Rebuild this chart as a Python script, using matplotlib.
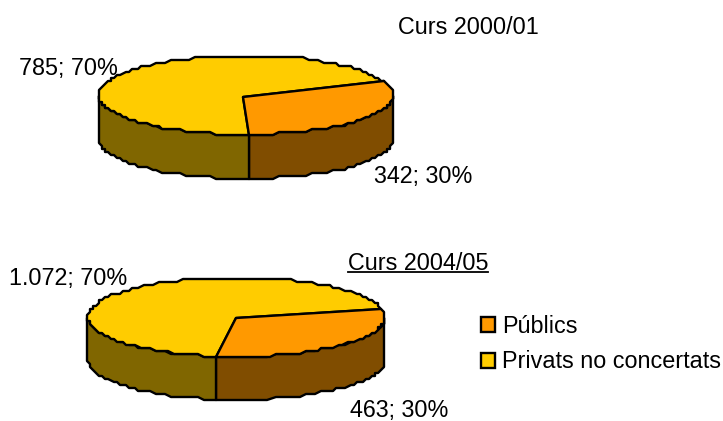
import numpy as np
import matplotlib
matplotlib.use("Agg")
import matplotlib.pyplot as plt
from matplotlib.patches import Polygon, Patch

plt.rcParams['font.family'] = ['Liberation Sans', 'DejaVu Sans']

categories = ["Públics", "Privats no concertats"]
years = ["Curs 2000/01", "Curs 2004/05"]
values_2000 = [342, 785]
values_2004 = [463, 1072]
top_colors = ["#FF9900", "#FFCC00"]
side_colors = ["#804D00", "#806600"]

FS = 16.8
STEP = 3.0
LW = 1.7


def quant(pts):
    return np.round(np.asarray(pts) / STEP) * STEP


def fmt(v, total):
    s = f"{v:,}".replace(",", ".")
    return f"{s}; {round(100 * v / total)}%"


def arc(cx, cy, rx, ry, a0, a1):
    n = max(2, int(abs(a1 - a0) / 2.5) + 1)
    t = np.radians(np.linspace(a0, a1, n))
    return np.column_stack([cx + rx * np.cos(t), cy - ry * np.sin(t)])


def draw_pie(ax, values, cx, cy, rx, ry, depth, start, apex):
    total = sum(values)
    a0 = start
    a1 = a0 - 360 * values[0] / total      # first slice, clockwise
    a2 = a0 - 360
    # side walls (only the front half of the rim shows)
    for lo, hi, col in [(a1, 0, side_colors[0]), (-180, a1, side_colors[1])]:
        top = quant(arc(cx, cy, rx, ry, hi, lo))
        bot = top[::-1] + [0, depth]
        ax.add_patch(Polygon(np.vstack([top, bot]), closed=True, fc=col, ec="k",
                             lw=LW, joinstyle="round", zorder=2))
    # top faces
    ax.add_patch(Polygon(np.vstack([[apex], quant(arc(cx, cy, rx, ry, a1, a2))]),
                         closed=True, fc=top_colors[1], ec="k", lw=LW,
                         joinstyle="round", zorder=3))
    ax.add_patch(Polygon(np.vstack([[apex], quant(arc(cx, cy, rx, ry, a0, a1))]),
                         closed=True, fc=top_colors[0], ec="k", lw=LW,
                         joinstyle="round", zorder=4))


fig = plt.figure(figsize=(7.23, 4.21), dpi=100)
ax = fig.add_axes([0, 0, 1, 1])
ax.set_xlim(0, 723)
ax.set_ylim(421, 0)
ax.axis("off")

draw_pie(ax, values_2000, 246, 95, 147, 39.5, 44, 20, (243, 97))
draw_pie(ax, values_2004, 236.5, 317, 148.5, 39.5, 43, 11, (236, 318))

tot0, tot1 = sum(values_2000), sum(values_2004)
kw = dict(fontsize=FS, color="k", va="center", zorder=6)
ax.text(19, 69, fmt(values_2000[1], tot0), **kw)
ax.text(374, 177, fmt(values_2000[0], tot0), **kw)
ax.text(9, 278, fmt(values_2004[1], tot1), **kw)
ax.text(350, 410.5, fmt(values_2004[0], tot1), **kw)
ax.text(398, 28, years[0], **kw)
ax.text(348, 263, years[1], **kw)
ax.plot([348, 488], [271.5, 271.5], color="k", lw=1.3, zorder=6)

handles = [Patch(fc=c, ec="k", lw=LW, label=l) for c, l in zip(top_colors, categories)]
leg = ax.legend(handles=handles, loc="center left", bbox_to_anchor=(481 / 723, 1 - 344 / 421),
                frameon=False, fontsize=FS, handlelength=0.62, handleheight=0.62,
                handletextpad=0.3, labelspacing=0.55, borderpad=0, borderaxespad=0)

fig.savefig("out.png", dpi=100)
